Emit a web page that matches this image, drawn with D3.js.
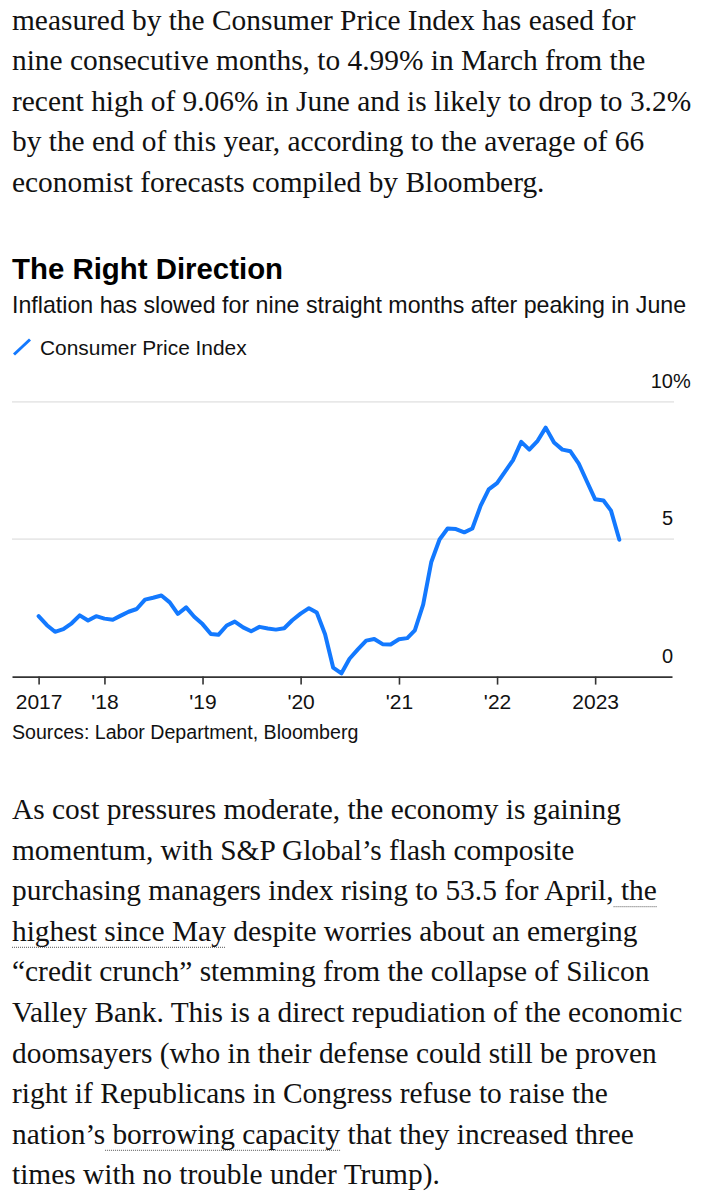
<!DOCTYPE html>
<html><head><meta charset="utf-8">
<script src="https://cdn.jsdelivr.net/npm/d3@7"></script>
<style>
html,body{margin:0;padding:0;background:#fff;}
svg{display:block;}
</style></head><body>
<svg id="c" width="714" height="1200"></svg>
<script>
// ---- data ----
const startMonth = "2017-04";   // first monthly observation (Apr 2017)
const cpi = [
  2.20, 1.87, 1.63, 1.73, 1.94, 2.23, 2.04, 2.20, 2.11,
  2.07, 2.21, 2.36, 2.46, 2.80, 2.87, 2.95, 2.70, 2.28, 2.52, 2.18, 1.91,
  1.55, 1.52, 1.86, 2.00, 1.79, 1.65, 1.81, 1.75, 1.71, 1.76, 2.05, 2.29,
  2.49, 2.33, 1.54, 0.33, 0.12, 0.65, 0.99, 1.31, 1.37, 1.18, 1.17, 1.36,
  1.40, 1.68, 2.62, 4.16, 4.99, 5.39, 5.37, 5.25, 5.39, 6.22, 6.81, 7.04,
  7.48, 7.87, 8.54, 8.26, 8.58, 9.06, 8.52, 8.26, 8.20, 7.75, 7.11, 6.45,
  6.41, 6.04, 4.98
];
const tickYears = ["2017-05", "2018-01", "2019-01", "2020-01", "2021-01", "2022-01", "2023-01"];
const tickLabels = ["2017", "'18", "'19", "'20", "'21", "'22", "2023"];
const yTicks = [0, 5, 10];
const title = "The Right Direction";
const subtitle = "Inflation has slowed for nine straight months after peaking in June";
const seriesName = "Consumer Price Index";
const source = "Sources: Labor Department, Bloomberg";
const introLines = [
  "measured by the Consumer Price Index has eased for",
  "nine consecutive months, to 4.99% in March from the",
  "recent high of 9.06% in June and is likely to drop to 3.2%",
  "by the end of this year, according to the average of 66",
  "economist forecasts compiled by Bloomberg."
];
const outroLines = [
  "As cost pressures moderate, the economy is gaining",
  "momentum, with S&P Global\u2019s flash composite",
  "purchasing managers index rising to 53.5 for April,[ the]",
  "[highest since May] despite worries about an emerging",
  "\u201Ccredit crunch\u201D stemming from the collapse of Silicon",
  "Valley Bank. This is a direct repudiation of the economic",
  "doomsayers (who in their defense could still be proven",
  "right if Republicans in Congress refuse to raise the",
  "nation\u2019s[ borrowing capacity] that they increased three",
  "times with no trouble under Trump)."
];

// ---- drawing ----
const svg = d3.select("#c");
const SANS = "'Liberation Sans', Arial, Helvetica, sans-serif";
const SERIF = "'Liberation Serif', 'Times New Roman', serif";
const BLUE = "#1379ff";
const parseM = d3.timeParse("%Y-%m");
const start = parseM(startMonth);
// observations dated at month end (= start of following month)
const data = cpi.map((v, i) => ({ date: d3.timeMonth.offset(start, i + 1), value: v }));

const x = d3.scaleTime()
  .domain([new Date(2017, 0, 22), new Date(2023, 9, 14)])
  .range([12, 672]);
const y = d3.scaleLinear().domain([0, 10]).range([676.6, 401.8]);

function bodyBlock(lines, y0, lh) {
  const g = svg.append("g");
  lines.forEach((ln, i) => {
    const by = y0 + i * lh;
    const parts = ln.split(/(\[[^\]]*\])/).filter(s => s.length);
    const t = g.append("text").attr("x", 12).attr("y", by)
      .attr("font-family", SERIF).attr("font-size", 29.4).attr("fill", "#111")
      .style("white-space", "pre");
    const segs = [];
    parts.forEach(p => {
      const link = p.startsWith("[");
      const txt = link ? p.slice(1, -1) : p;
      segs.push({ txt, link });
      t.append("tspan").text(txt);
    });
    let offset = 0;
    const node = t.node();
    segs.forEach(s => {
      if (s.link) {
        const x0 = 12 + (offset ? node.getSubStringLength(0, offset) : 0);
        const w = node.getSubStringLength(offset, s.txt.length);
        g.append("line").attr("x1", x0).attr("x2", x0 + w)
          .attr("y1", by + 6.5).attr("y2", by + 6.5)
          .attr("stroke", "#555").attr("stroke-width", 1)
          .attr("stroke-dasharray", "1,1");
      }
      offset += s.txt.length;
    });
  });
}

bodyBlock(introLines, 29.5, 40.6);
bodyBlock(outroLines, 819, 40.6);

// title block
svg.append("text").attr("x", 12).attr("y", 279)
  .attr("font-family", SANS).attr("font-weight", "bold").attr("font-size", 29.4)
  .attr("fill", "#000").text(title);
svg.append("text").attr("x", 12).attr("y", 313)
  .attr("font-family", SANS).attr("font-size", 23.2)
  .attr("fill", "#111").text(subtitle);

// legend
svg.append("line").attr("x1", 14).attr("y1", 354.5).attr("x2", 30).attr("y2", 339.5)
  .attr("stroke", BLUE).attr("stroke-width", 3).attr("stroke-linecap", "butt");
svg.append("text").attr("x", 40).attr("y", 354.5)
  .attr("font-family", SANS).attr("font-size", 20.9)
  .attr("fill", "#111").text(seriesName);

// gridlines + y labels
const grid = svg.append("g");
yTicks.filter(v => v > 0).forEach(v => {
  grid.append("line").attr("x1", 12).attr("x2", 674)
    .attr("y1", y(v)).attr("y2", y(v))
    .attr("stroke", "#e8e8e8").attr("stroke-width", 1.8);
});
yTicks.forEach((v, i) => {
  const t = svg.append("text").attr("x", 673).attr("y", y(v) - 13.8)
    .attr("text-anchor", "start")
    .attr("font-family", SANS).attr("font-size", 20).attr("fill", "#111");
  t.append("tspan").text(v);
  if (i === yTicks.length - 1) t.append("tspan").text("%");
  const num = t.node().getSubStringLength(0, String(v).length);
  t.attr("x", 673 - num);
});

// x axis
const tickDates = tickYears.map(parseM);
const axis = d3.axisBottom(x)
  .tickValues(tickDates)
  .tickFormat((d, i) => tickLabels[i])
  .tickSize(8).tickSizeOuter(0).tickPadding(9);
const ax = svg.append("g").attr("transform", `translate(0,${y(0)})`).call(axis);
ax.select(".domain").attr("stroke", "#333").attr("stroke-width", 1.6);
ax.selectAll(".tick line").attr("stroke", "#333").attr("stroke-width", 1.6);
ax.selectAll(".tick text").attr("font-family", SANS).attr("font-size", 21)
  .attr("fill", "#111").attr("dy", "0.71em");

// line
const line = d3.line().x(d => x(d.date)).y(d => y(d.value));
svg.append("path").datum(data)
  .attr("fill", "none").attr("stroke", BLUE).attr("stroke-width", 4)
  .attr("stroke-linejoin", "round").attr("stroke-linecap", "round")
  .attr("d", line);

// source
svg.append("text").attr("x", 12).attr("y", 739)
  .attr("font-family", SANS).attr("font-size", 19.6)
  .attr("fill", "#111").text(source);
</script>
</body></html>
